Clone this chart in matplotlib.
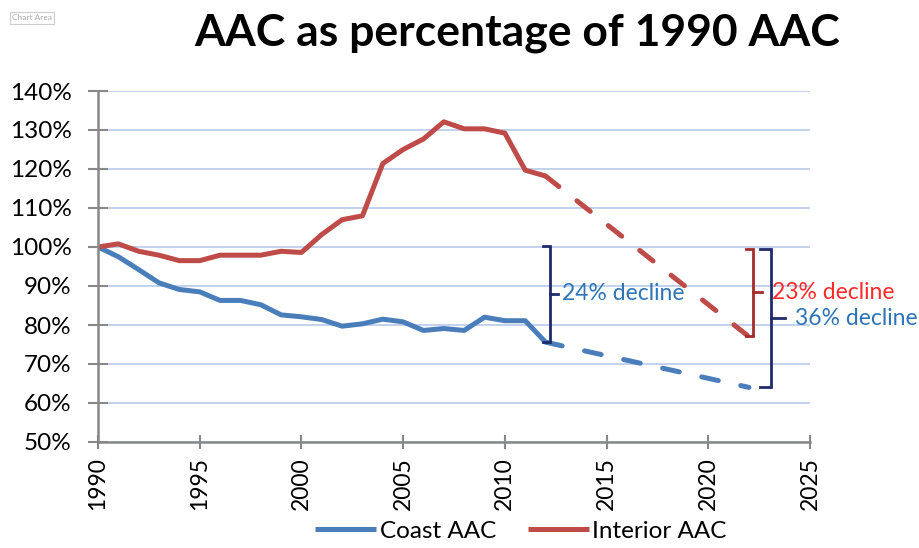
import matplotlib
matplotlib.use("Agg")
import matplotlib.pyplot as plt
import numpy as np

plt.rcParams['font.family'] = ['Lato', 'DejaVu Sans']

# ---------------- DATA ----------------
years = list(range(1990, 2013))
coast = [100, 97.5, 94.2, 90.8, 89.1, 88.5, 86.3, 86.3, 85.2, 82.6, 82.1,
         81.4, 79.7, 80.3, 81.5, 80.8, 78.6, 79.1, 78.6, 82.0, 81.1, 81.1, 75.6]
interior = [100, 100.8, 98.9, 97.9, 96.5, 96.5, 97.9, 97.9, 97.9, 98.9, 98.6,
            103.2, 107.0, 108.0, 121.4, 125.0, 127.7, 132.1, 130.3, 130.3, 129.2,
            119.7, 118.2]

proj_years = [2012, 2022]
coast_proj = [75.6, 64.0]
interior_proj = [118.2, 77.0]

decline_labels = ["24% decline", "23% decline", "36% decline"]

blue = '#4A7EBB'
red = '#BE4B48'
navy = '#1F2A6B'

fig = plt.figure(figsize=(9.19, 5.48), dpi=100)
ax = fig.add_axes([98 / 919, 1 - 442 / 548, 712 / 919, 351 / 548])

lw = 3.6
ax.plot(years, coast, color=blue, lw=lw, solid_capstyle='butt', solid_joinstyle='round', label='Coast AAC')
ax.plot(years, interior, color=red, lw=lw, solid_capstyle='butt', solid_joinstyle='round', label='Interior AAC')
ax.plot(proj_years, coast_proj, color=blue, lw=lw, dashes=(3.4, 4.6), dash_capstyle='round')
ax.plot(proj_years, interior_proj, color=red, lw=lw, dashes=(3.4, 4.6), dash_capstyle='round')

ax.set_xlim(1990, 2025)
ax.set_ylim(50, 140)
ax.set_xticks(range(1990, 2026, 5))
ax.set_yticks(range(50, 141, 10))
ax.set_yticklabels([f"{v}%" for v in range(50, 141, 10)])
ax.tick_params(axis='x', labelrotation=90, labelsize=16.5, length=10, width=1.5, color='#888888',
               direction='inout', pad=6)
ax.tick_params(axis='y', labelsize=17.5, length=14, width=1.5, color='#888888', direction='inout', pad=12)
ax.grid(axis='y', color='#B9CBEA', lw=1.2)
ax.set_axisbelow(True)
for s in ['top', 'right']:
    ax.spines[s].set_visible(False)
for s in ['left', 'bottom']:
    ax.spines[s].set_color('#888888')
    ax.spines[s].set_linewidth(1.8)


def bracket(x0, y_top, y_bot, width, tip, color):
    # square bracket "]" with a little tip on the right, in data coords
    ax.plot([x0 - width, x0, x0, x0 - width], [y_top, y_top, y_bot, y_bot],
            color=color, lw=2, clip_on=False, solid_joinstyle='miter')
    ym = (y_top + y_bot) / 2
    ax.plot([x0, x0 + tip], [ym, ym], color=color, lw=2, clip_on=False)
    return ym


# 24% coast decline to 2012
ym = bracket(2012.22, 100.3, coast[-1], 0.35, 0.4, navy)
ax.text(2012.8, ym, decline_labels[0], color='#2E75B6', fontsize=16.5, va='center', ha='left')

# 23% interior decline to 2022
ym = bracket(2022.2, 99.5, interior_proj[1] + 0.2, 0.35, 0.45, '#A52A2A')
ax.text(2023.15, ym, decline_labels[1], color='#FF2A2A', fontsize=16.5, va='center', ha='left')

# 36% coast decline to 2022
ym = bracket(2023.1, 99.5, coast_proj[1], 0.55, 0.65, navy)
ax.text(2024.25, ym, decline_labels[2], color='#2E75B6', fontsize=16.5, va='center', ha='left')

fig.text(517 / 919, 1 - 33 / 548, "AAC as percentage of 1990 AAC", fontsize=32,
         fontweight='bold', ha='center', va='center')

fig.text(12 / 919, 1 - 18 / 548, "Chart Area", fontsize=6, color='#AAAAAA', ha='left', va='center',
         bbox=dict(boxstyle='square,pad=0.3', fc='white', ec='#CCCCCC', lw=0.8))

fig.legend(loc='center', bbox_to_anchor=(521 / 919, 1 - 531 / 548), ncol=2, frameon=False,
           fontsize=17.5, handlelength=2.5, columnspacing=1.3, handletextpad=0.15)

fig.savefig("out.png", dpi=100)
